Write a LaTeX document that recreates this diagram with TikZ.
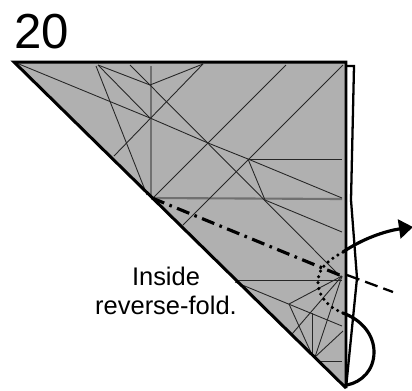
\documentclass[tikz,border=0pt]{standalone}
\usepackage{fontspec}
\setmainfont{Liberation Sans}
\usepackage{xcolor}
\usetikzlibrary{calc,arrows.meta,positioning}
\definecolor{PaperGray}{RGB}{176, 176, 176}
\definecolor{FoldGray}{RGB}{112, 112, 112}

\begin{document}
\begin{tikzpicture}[x=0.02cm, y=-0.02cm, >={Triangle[length=0.28cm,width=0.38cm]},
  edge/.style={draw=black, line width=1.7pt, line join=miter},
  crease/.style={draw=black!85, line width=0.5pt},
  ridge/.style={draw=FoldGray, line width=1.2pt},
  mtn/.style={line width=1.8pt, dash pattern=on 7.5pt off 3.2pt on 1.5pt off 3.2pt},
  vly/.style={line width=1.3pt, dash pattern=on 7.5pt off 3.5pt},
  hid/.style={line width=2pt, line cap=round, dash pattern=on 0pt off 3.4pt},
  mov/.style={line width=1.8pt}]
  \useasboundingbox (0,0) rectangle (412,390);
  % vertices of the folded shape
  \coordinate (tl) at (14,62);
  \coordinate (tr) at (346,62);
  \coordinate (bt) at (346,388);
  \coordinate (hub) at (152,198);
  \coordinate (pivot) at (342,276);
  \coordinate (a) at (150,85);
  \coordinate (b) at (150,118);
  \coordinate (c) at (208,143);
  \coordinate (d) at (248,159);
  \coordinate (e) at (265,200);
  \coordinate (f) at (289,304);
  \coordinate (g) at (312,313);
  \coordinate (h) at (313,357);
  % back flap, then paper
  \draw[line width=1.3pt, fill=white] (346,66) -- (354,66) -- (351,200) -- (357,278) -- (bt);
  \fill[PaperGray] (tl) -- (tr) -- (bt) -- cycle;
  % creases
  \draw[ridge] (151,66) -- (151,195);
  \draw[ridge] (hub) -- (342,199);
  \draw[crease] (tl) -- (b) -- (c) -- (d) -- (342,198);
  \draw[crease] (96,66) -- (147,195);
  \draw[crease] (98,65) -- (a) -- (203,64);
  \draw[crease] (98,65) -- (b);
  \draw[crease] (130,65) -- (342,278);
  \draw[crease] (114,156) -- (203,64);
  \draw[crease] (286,65) -- (154,197);
  \draw[crease] (343,65) -- (183,225);
  \draw[crease] (d) -- (342,159);
  \draw[crease] (d) -- (e) -- (342,232);
  \draw[crease] (236,280) -- (342,280);
  \draw[crease] (235,282) -- (342,326);
  \draw[crease] (pivot) -- (f) -- (h);
  \draw[crease] (292,334) -- (pivot);
  \draw[crease] (g) -- (312,357);
  \draw[crease] (315,357) -- (pivot);
  \draw[crease] (315,357) -- (343,331);
  \draw[crease] (317,361) -- (342,361);
  % outline
  \draw[edge] (bt) -- (tl) -- (tr) -- (bt);
  % fold lines
  \draw[mtn] (hub) -- (pivot);
  \draw[vly] (347,275) -- (393,292);
  % arrows
  \draw[hid] (343,252) .. controls (325,262) and (318,270) .. (318,282) .. controls (318,298) and (330,308) .. (343,313);
  \draw[mov, ->] (343,252) .. controls (362,239) and (385,231) .. (413,227);
  \draw[mov] (343,313) .. controls (362,320) and (374,335) .. (374,352) .. controls (374,370) and (362,382) .. (347,385);
  % labels
  \node[font=\fontsize{28}{28}\selectfont, anchor=base west, inner sep=0pt] (num) at (14,48) {20};
  \node[font=\fontsize{14.5}{16.5}\selectfont, align=center, inner sep=0pt] (note) at (166,291) {Inside\\reverse-fold.};
\end{tikzpicture}
\end{document}
